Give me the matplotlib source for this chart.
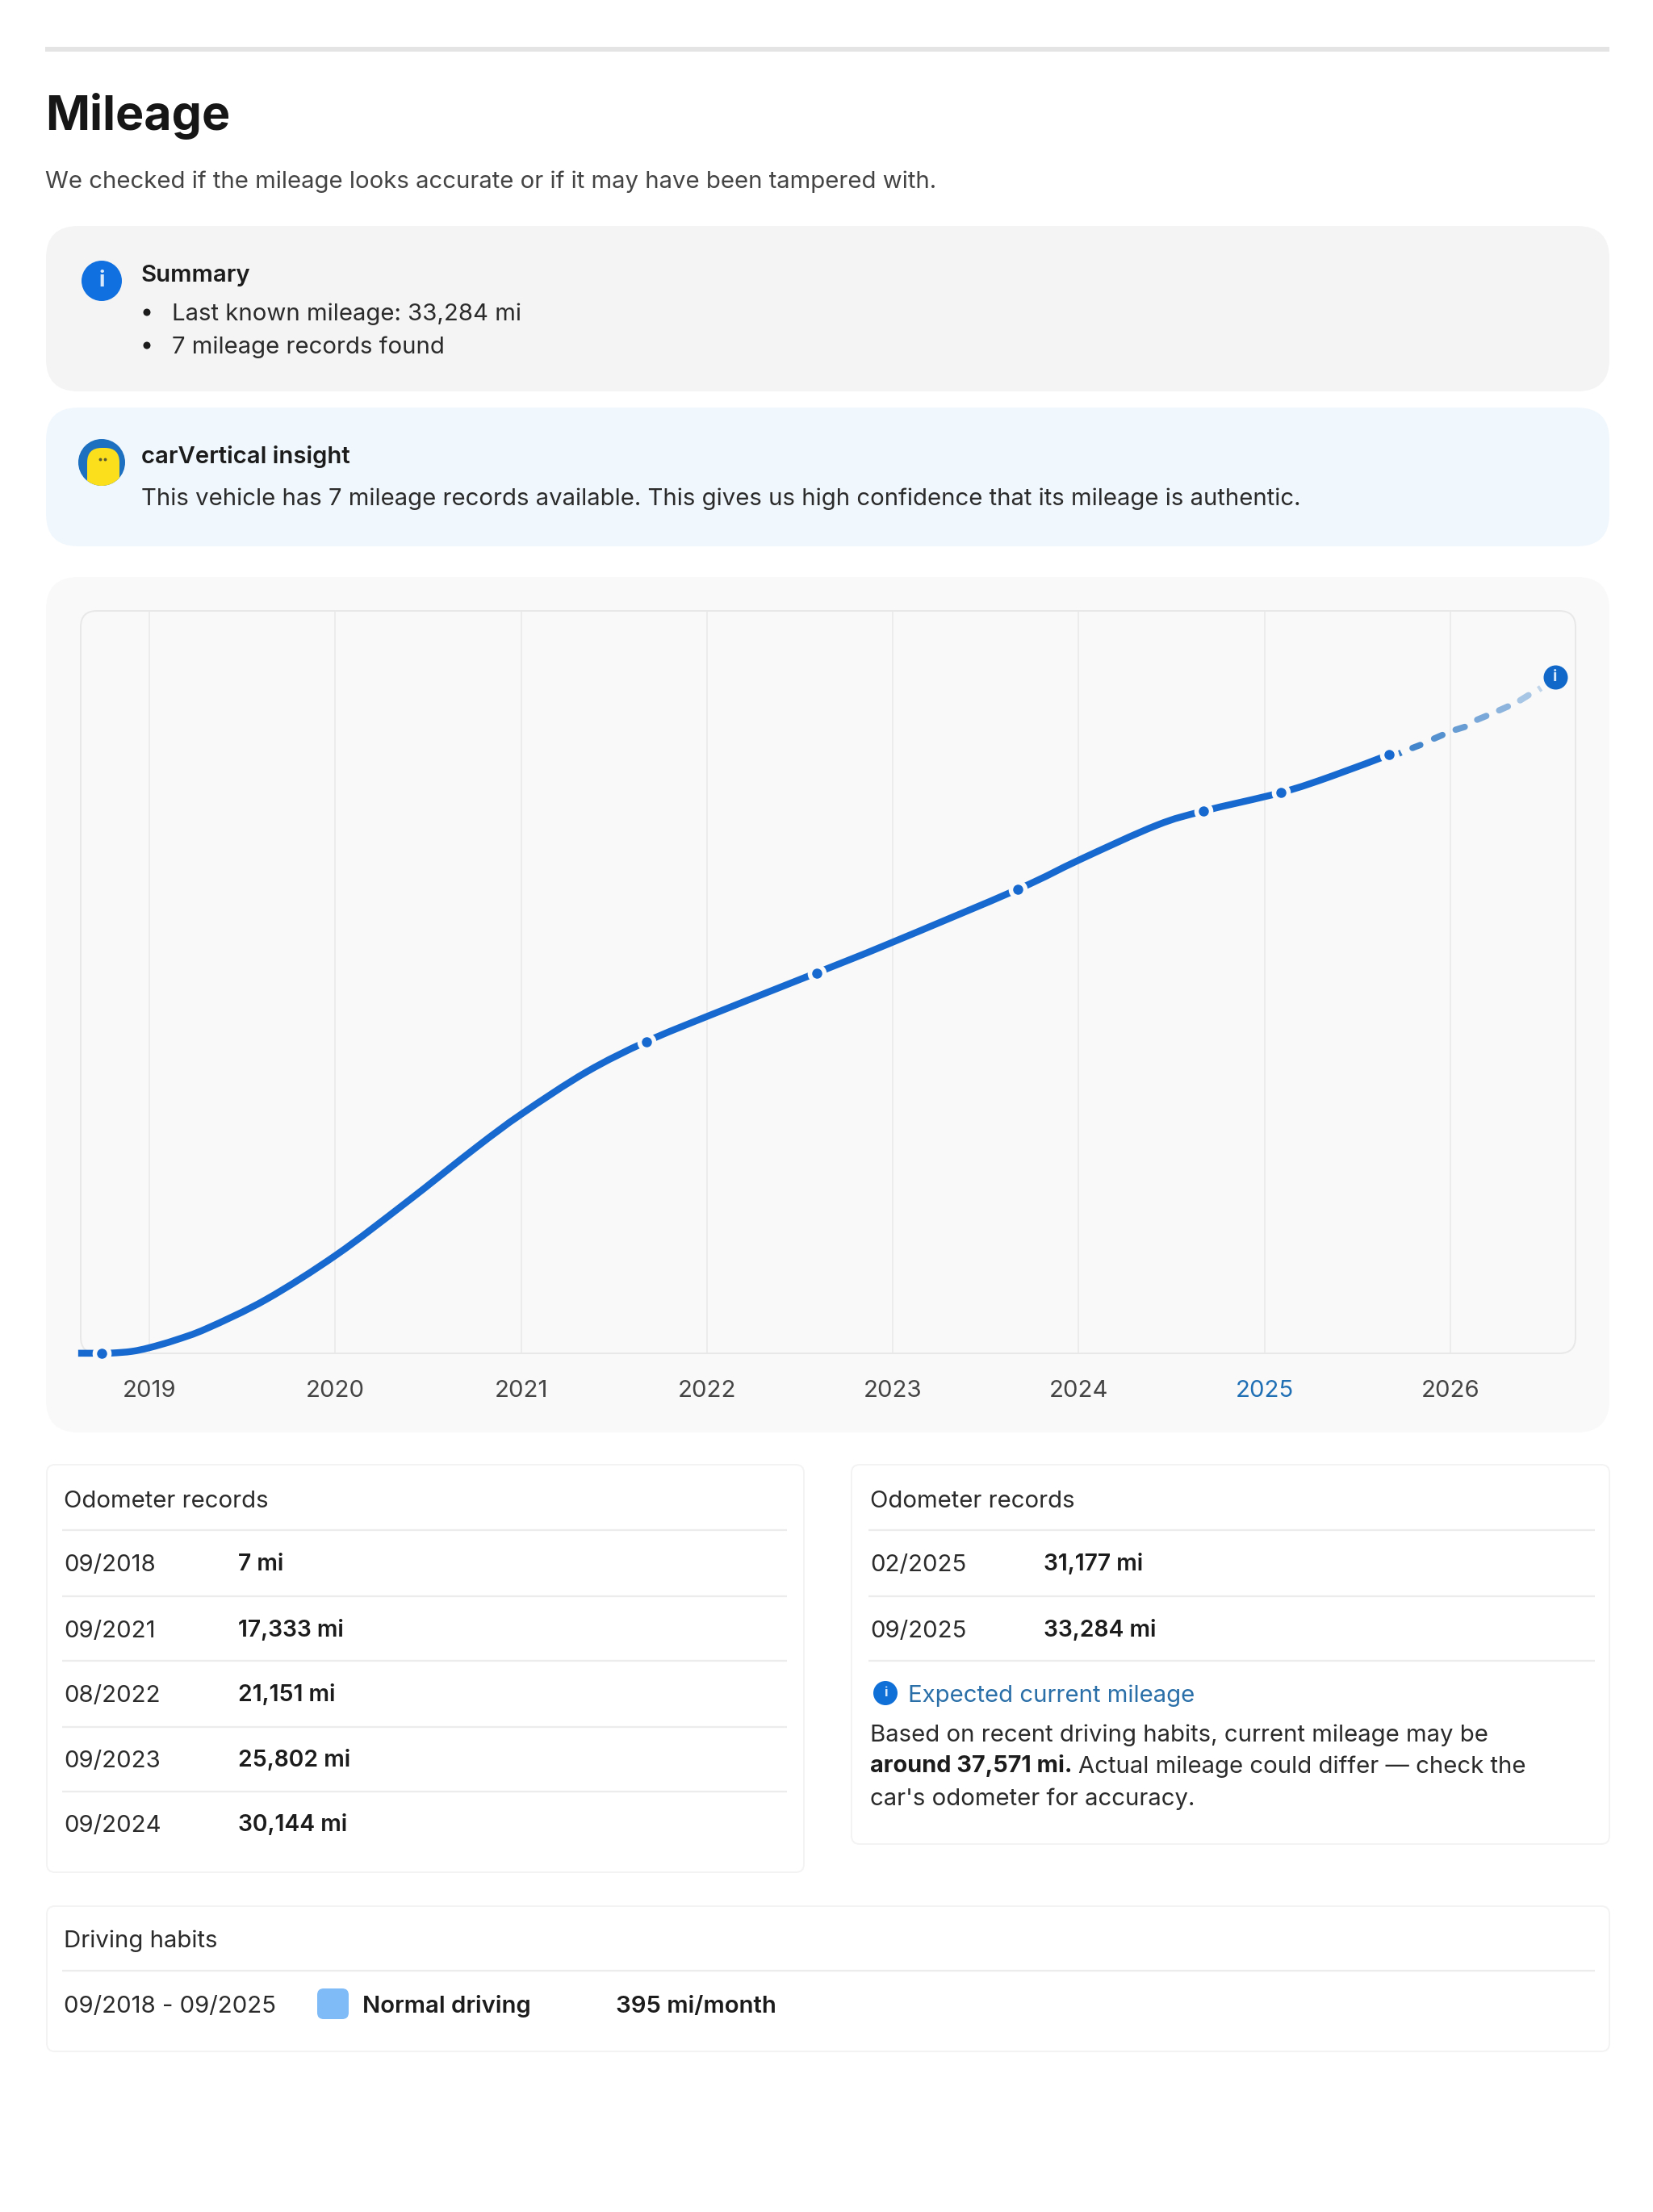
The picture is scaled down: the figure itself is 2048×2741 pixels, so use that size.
# Mileage report page: summary boxes, odometer curve, record tables
import matplotlib
matplotlib.use("Agg")
import matplotlib.pyplot as plt
from matplotlib.patches import FancyBboxPatch, Circle, PathPatch
from matplotlib.path import Path

plt.rcParams['font.family'] = ['Inter', 'DejaVu Sans']

# Chart data, x is the decimal year
curve_year = [2018.617, 2018.744, 2018.805, 2018.906, 2019.000, 2019.138, 2019.311, 2019.630, 2020.006,
              2020.382, 2020.759, 2021.005, 2021.352, 2021.675, 2022.031, 2022.590, 2022.973,
              2023.674, 2024.008, 2024.419, 2024.671, 2025.090, 2025.362, 2025.672]
curve_miles = [7, 7, 20, 110, 314, 730, 1391, 3006, 5473,
               8389, 11453, 13323, 15643, 17333, 18855, 21151, 22744,
               25802, 27454, 29352, 30144, 31177, 32088, 33284]

record_year = [2018.744, 2021.675, 2022.590, 2023.674, 2024.671, 2025.090, 2025.672]
record_miles = [7, 17333, 21151, 25802, 30144, 31177, 33284]

# Expected mileage part, every dash is a start and an end point
dash_year = [2025.722, 2025.735, 2025.796, 2025.838, 2025.912, 2025.957, 2026.028, 2026.077,
             2026.144, 2026.193, 2026.262, 2026.309, 2026.375, 2026.420, 2026.474, 2026.487]
dash_miles = [33331, 33398, 33652, 33818, 34172, 34374, 34666, 34823,
              35222, 35433, 35742, 35958, 36298, 36586, 36898, 36987]
dash_alpha = [0.85, 0.8, 0.72, 0.64, 0.56, 0.48, 0.36, 0.25]
expected_year = 2026.564
expected_miles = 37571

year_ticks = [2019, 2020, 2021, 2022, 2023, 2024, 2025, 2026]

# Tables
left_dates = ["09/2018", "09/2021", "08/2022", "09/2023", "09/2024"]
left_values = ["7 mi", "17,333 mi", "21,151 mi", "25,802 mi", "30,144 mi"]
right_dates = ["02/2025", "09/2025"]
right_values = ["31,177 mi", "33,284 mi"]

W, H = 2048, 2741
BLUE = "#1769cf"
DARK = "#1c1c1c"
TEXT = "#2b2b2b"
LINE = "#ececec"
PANEL = "#f9f9f9"
CARD_EDGE = "#f3f3f3"
BODY = 21.1

fig = plt.figure(figsize=(W / 100, H / 100), dpi=100, facecolor="white")

# Page axes in pixels, y going down
page = fig.add_axes([0, 0, 1, 1])
page.set_xlim(0, W)
page.set_ylim(H, 0)
page.axis("off")


def box(x0, y0, x1, y1, radius, face, edge="none", lw=0):
    p = FancyBboxPatch((x0, y0), x1 - x0, y1 - y0, boxstyle=f"round,pad=0,rounding_size={radius}",
                       facecolor=face, edgecolor=edge, linewidth=lw)
    page.add_patch(p)
    return p


def label(x, yc, s, size=BODY, weight="normal", color=TEXT):
    # yc is the middle of the capitals
    return page.text(x, yc + size * 0.50, s, fontsize=size, fontweight=weight, color=color,
                     va="baseline", ha="left")


def rule(x0, x1, y, lw=1.6, color=LINE):
    page.plot([x0, x1], [y, y], color=color, lw=lw, solid_capstyle="butt")


def info_icon(x, y, r, color):
    page.add_patch(Circle((x, y), r, facecolor=color, edgecolor="none"))
    page.text(x, y, "i", color="#d8e9fb", fontsize=r * 0.8, fontweight="bold", ha="center", va="center")


def smooth_path(xs, ys):
    # bezier through the read points, so the polyline has no corners
    verts = [(xs[0], ys[0])]
    codes = [Path.MOVETO]
    n = len(xs)
    for i in range(n - 1):
        a, b = max(i - 1, 0), min(i + 2, n - 1)
        verts.append((xs[i] + (xs[i + 1] - xs[a]) / 6, ys[i] + (ys[i + 1] - ys[a]) / 6))
        verts.append((xs[i + 1] - (xs[b] - xs[i]) / 6, ys[i + 1] - (ys[b] - ys[i]) / 6))
        verts.append((xs[i + 1], ys[i + 1]))
        codes += [Path.CURVE4, Path.CURVE4, Path.CURVE4]
    return Path(verts, codes)


# Heading
page.plot([56, 1994], [61, 61], color="#e4e4e4", lw=4.3, solid_capstyle="butt")
label(56, 140, "Mileage", size=42.5, weight="bold", color="#161616")
label(56, 222, "We checked if the mileage looks accurate or if it may have been tampered with.",
      color="#444444")

# Summary box
box(57, 280, 1994, 485, 40, "#f4f4f4")
info_icon(126, 348, 25, "#1070e0")
label(175, 338, "Summary", weight="semibold", color=DARK)
for yc, s in [(386, "Last known mileage: 33,284 mi"), (427, "7 mileage records found")]:
    page.add_patch(Circle((182, yc + 1), 4.5, facecolor=DARK, edgecolor="none"))
    label(213, yc, s)

# Insight box
box(57, 505, 1994, 677, 40, "#f1f8fd")
avatar = Circle((126, 573), 29, facecolor="#1d6fc0", edgecolor="none")
page.add_patch(avatar)
body = box(108, 555, 148, 625, 18, "#fbdf1c")
body.set_clip_path(avatar)
page.plot([124, 130], [569, 569], ls="none", marker="o", ms=1.8, color="#5a5a30")
label(175, 563, "carVertical insight", weight="semibold", color=DARK)
label(175, 615, "This vehicle has 7 mileage records available. This gives us high confidence that its mileage is authentic.")

# Chart panel and plot frame
box(57, 715, 1994, 1775, 40, PANEL)
box(100, 757, 1952, 1677, 20, "none", edge="#e8e8e8", lw=1.4)

ax_left, ax_right, ax_top, ax_bottom = 101, 1952, 757, 1677
ax = fig.add_axes([ax_left / W, 1 - ax_bottom / H, (ax_right - ax_left) / W, (ax_bottom - ax_top) / H])
ax.patch.set_visible(False)
ax.set_xlim(2018.635, 2026.673)
ax.set_ylim(0, 41271)
for s in ax.spines.values():
    s.set_visible(False)
ax.set_yticks([])
ax.set_xticks(year_ticks)
ax.set_xticklabels([str(y) for y in year_ticks], fontsize=BODY, color="#444444")
ax.tick_params(axis="x", length=0, pad=23.5)
ax.get_xticklabels()[year_ticks.index(2025)].set_color("#1f6fb5")
ax.grid(axis="x", color="#e9e9e9", lw=1.1)
ax.set_axisbelow(True)

ax.add_patch(PathPatch(smooth_path(curve_year, curve_miles), fill=False, edgecolor=BLUE, lw=6.1,
                       capstyle="butt", joinstyle="round", clip_on=False, zorder=3))
ax.plot(record_year, record_miles, ls="none", marker="o", ms=17, color=PANEL, mew=0, clip_on=False, zorder=4)
ax.plot(record_year, record_miles, ls="none", marker="o", ms=9, color=BLUE, mew=0, clip_on=False, zorder=5)

# Dashes fade out towards the expected value, the first and last are only slivers
for i, a in enumerate(dash_alpha):
    cap = "butt" if i in (0, len(dash_alpha) - 1) else "round"
    ax.plot(dash_year[i * 2:i * 2 + 2], dash_miles[i * 2:i * 2 + 2], color="#1769c0", alpha=a, lw=5.6,
            solid_capstyle=cap, zorder=3)
ax.plot([expected_year], [expected_miles], ls="none", marker="o", ms=21.6, color="#1268c8", mew=0, zorder=5)
ax.text(expected_year, expected_miles, "i", color="#d8e9fb", fontsize=14, fontweight="bold",
        ha="center", va="center", zorder=6)

# Left table
box(58, 1815, 996, 2320, 10, "white", edge=CARD_EDGE, lw=1.4)
label(79, 1857, "Odometer records")
for y in [1896, 1978, 2058, 2140, 2220]:
    rule(77, 975, y)
for yc, d, v in zip([1936, 2018, 2098, 2179, 2259], left_dates, left_values):
    label(79, yc, d)
    label(295, yc, v, size=20.4, weight="semibold", color=DARK)

# Right table
box(1055, 1815, 1994, 2285, 10, "white", edge=CARD_EDGE, lw=1.4)
label(1078, 1857, "Odometer records")
for y in [1896, 1978, 2058]:
    rule(1076, 1976, y)
for yc, d, v in zip([1936, 2018], right_dates, right_values):
    label(1078, yc, d)
    label(1293, yc, v, size=20.4, weight="semibold", color=DARK)
info_icon(1097, 2098, 15, "#1070d8")
label(1125, 2098, "Expected current mileage", color="#2a6fa8")
label(1078, 2147, "Based on recent driving habits, current mileage may be")
bold_part = label(1078, 2186, "around 37,571 mi.", size=20.8, weight="bold", color=DARK)
renderer = fig.canvas.get_renderer()
bold_end = bold_part.get_window_extent(renderer).x1
label(bold_end + 8, 2186, "Actual mileage could differ \u2014 check the")
label(1078, 2226, "car's odometer for accuracy.")

# Driving habits
box(58, 2362, 1994, 2542, 10, "white", edge=CARD_EDGE, lw=1.4)
label(79, 2402, "Driving habits")
rule(77, 1976, 2442)
label(79, 2483, "09/2018 - 09/2025")
box(393, 2464, 432, 2502, 8, "#7fbbf7")
label(449, 2483, "Normal driving", weight="semibold", color=DARK)
label(763, 2483, "395 mi/month", weight="semibold", color=DARK)

plt.savefig("out.png", dpi=100)
